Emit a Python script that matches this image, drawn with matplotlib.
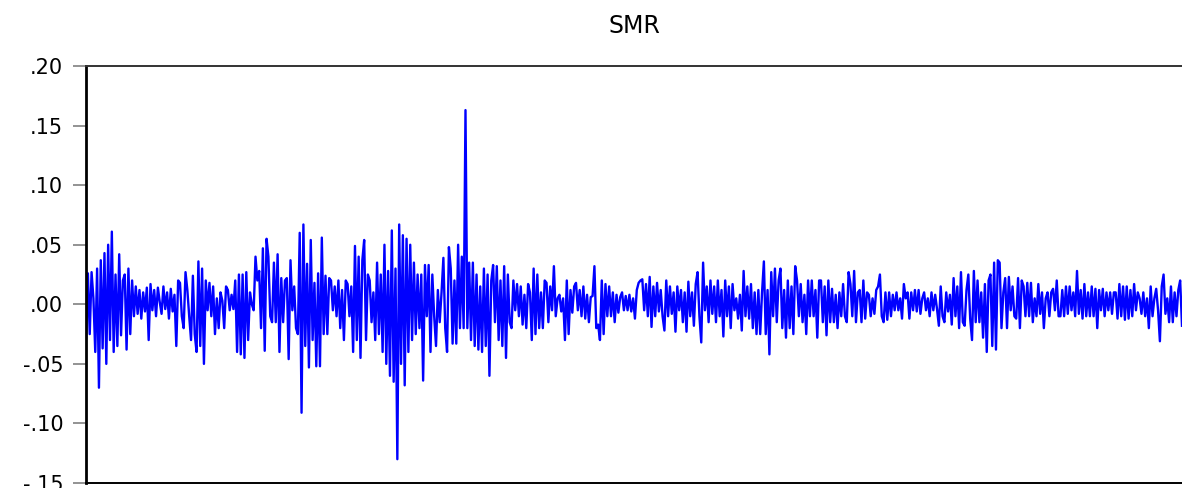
import matplotlib
matplotlib.use('Agg')
import matplotlib.pyplot as plt

# SMR 收益率序列（按图中读数估计）
seg_a = [-0.028, 0.026, -0.025, 0.027, 0.005, -0.040, 0.030, -0.070, 0.037, -0.037,
         0.043, -0.050, 0.050, -0.030, 0.061, -0.040, 0.025, -0.035, 0.042, -0.026,
         0.020, 0.025, -0.038, 0.030, -0.025, 0.020, -0.010, 0.015, -0.008, 0.012,
         -0.012, 0.010, -0.006, 0.014, -0.030, 0.017, -0.005, 0.012, -0.010, 0.014,
         0.002, -0.008, 0.015, -0.004, 0.010, -0.012, 0.013, -0.006, 0.008, -0.035,
         0.020, 0.018, -0.010, -0.020, 0.027, 0.012, -0.010, -0.030, 0.024, -0.025,
         -0.040, 0.036, -0.035, 0.030, -0.050, 0.020, -0.005, 0.018, -0.010, 0.015,
         -0.025, 0.005, -0.020, 0.010, 0.003, -0.020, 0.015, 0.012, -0.005, 0.008,
         -0.004, 0.020, -0.040, 0.025, -0.042, 0.025, -0.045, 0.027, -0.030, 0.010,
         0.000, -0.005, 0.040, 0.020]
seg_b = [0.028, -0.020, 0.047, -0.039, 0.055, 0.040, -0.010, -0.015, 0.035, -0.015,
         0.042, -0.040, 0.022, -0.015, 0.020, 0.022, -0.046, 0.037, -0.005, 0.015,
         -0.020, -0.025, 0.060, -0.091, 0.067, -0.035, 0.034, -0.053, 0.054, -0.030,
         0.018, -0.052, 0.026, -0.052, 0.056, -0.025, 0.024, -0.025, 0.022, 0.020,
         -0.005, 0.015, -0.010, 0.020, -0.020, 0.012, -0.030, 0.020, 0.017, -0.010,
         0.015, -0.040, 0.049, -0.030, 0.040, -0.045, 0.037, 0.054, -0.030, 0.025,
         0.020, -0.015, 0.010, -0.030, 0.035, -0.025, 0.025, -0.040, 0.050, -0.050,
         0.028, -0.060, 0.062, -0.065, 0.030, -0.130, 0.067, -0.050, 0.058, -0.068,
         0.055, -0.040, 0.050, -0.030, 0.035, -0.025, 0.025, -0.020, 0.025, -0.064,
         0.033, -0.010, 0.033, -0.040, 0.025, -0.010, -0.035, 0.012, -0.015, 0.010,
         0.039, -0.020, -0.040, 0.048]
seg_c = [0.030, -0.033, 0.020, -0.033, 0.050, -0.020, 0.040, -0.020, 0.163, -0.020,
         0.035, -0.030, 0.035, -0.035, 0.025, -0.038, 0.015, -0.040, 0.030, -0.035,
         0.025, -0.060, 0.020, 0.033, -0.015, 0.032, -0.030, 0.020, -0.035, 0.032,
         -0.045, 0.025, -0.015, -0.020, 0.020, -0.005, 0.017, -0.010, 0.015, -0.017,
         0.008, -0.020, 0.017, 0.010, -0.030, 0.030, -0.025, 0.025, -0.020, 0.010,
         -0.020, 0.020, 0.018, -0.015, 0.015, -0.005, 0.032, -0.010, 0.005, 0.008,
         -0.006, 0.005, -0.030, 0.020, -0.025, 0.012, -0.007, 0.015, 0.018, -0.005,
         0.012, -0.010, 0.015, -0.012, 0.008, -0.015, 0.006, 0.007, 0.032, -0.020,
         -0.017, -0.030, 0.020, -0.025, 0.017, -0.010, 0.015, -0.010, 0.010, -0.015,
         0.008, -0.007, 0.006, 0.010, -0.005, 0.007, -0.005, 0.008, -0.006, 0.005,
         -0.012, 0.012, 0.018, 0.020]
seg_d = [0.021, -0.005, 0.017, -0.010, 0.023, -0.019, 0.015, -0.010, 0.018, -0.006,
         0.012, -0.010, -0.022, 0.020, -0.010, 0.015, -0.008, 0.010, -0.023, 0.015,
         -0.005, 0.012, -0.015, 0.010, -0.023, 0.019, -0.010, 0.010, -0.018, 0.017,
         0.027, -0.010, -0.032, 0.035, -0.005, 0.015, -0.015, 0.020, -0.008, 0.015,
         -0.015, 0.020, -0.010, 0.012, -0.027, 0.020, -0.010, 0.015, -0.020, 0.017,
         -0.005, 0.005, -0.012, 0.008, -0.022, 0.028, -0.010, 0.015, -0.012, 0.017,
         -0.020, 0.010, -0.025, 0.012, -0.025, 0.010, 0.036, -0.025, 0.012, -0.042,
         0.027, -0.010, 0.030, -0.015, 0.020, 0.030, -0.020, 0.012, -0.028, 0.020,
         -0.020, 0.015, -0.025, 0.032, 0.020, -0.010, 0.017, -0.015, 0.008, -0.025,
         0.020, -0.010, 0.020, -0.010, 0.012, -0.028, 0.020]
seg_e = [0.020, -0.015, 0.015, -0.026, 0.020, -0.015, 0.013, -0.015, 0.008, -0.020,
         0.010, -0.010, 0.017, -0.010, -0.015, 0.027, 0.017, -0.010, 0.028, -0.015,
         0.010, 0.012, -0.015, 0.020, -0.012, 0.010, 0.008, -0.010, 0.005, -0.008,
         0.012, 0.015, 0.025, -0.010, -0.015, 0.010, -0.013, 0.010, -0.010, 0.008,
         -0.005, 0.010, -0.005, 0.005, -0.012, 0.017, 0.005, 0.010, -0.012, 0.010,
         -0.005, 0.012, -0.006, 0.012, -0.008, 0.005, 0.010, -0.005, 0.005, -0.010,
         0.010, -0.005, 0.008, -0.004, -0.018, 0.015, -0.010, -0.015, 0.010, -0.006,
         0.008, -0.017, 0.022, -0.010, 0.015, -0.020, 0.027, -0.015, -0.018, 0.012,
         0.025, -0.012, -0.030, 0.028, -0.015, 0.020, -0.015, 0.010, -0.028, 0.017,
         -0.040, 0.020, 0.025, -0.035, 0.035]
seg_f = [-0.038, 0.037, 0.035, -0.020, 0.010, 0.022, -0.020, 0.023, -0.005, 0.015,
         -0.010, -0.012, 0.022, -0.020, 0.020, 0.015, -0.010, 0.018, -0.010, 0.018,
         -0.015, 0.005, -0.010, 0.017, -0.008, 0.010, -0.020, 0.005, 0.010, -0.010,
         0.010, 0.013, -0.005, 0.020, -0.010, -0.010, 0.012, -0.010, 0.015, -0.008,
         0.015, -0.005, 0.010, -0.010, 0.028, -0.008, 0.012, -0.012, 0.017, -0.010,
         0.010, -0.010, 0.015, -0.010, 0.013, -0.020, 0.012, -0.005, 0.013, -0.010,
         0.010, -0.005, 0.010, -0.008, 0.010, 0.010, -0.012, 0.017, -0.010, 0.015,
         -0.013, 0.015, -0.012, 0.012, -0.010, 0.017, -0.005, 0.010, 0.005, -0.008,
         0.010, -0.010, 0.005, -0.020, 0.015, -0.010, 0.005, 0.013, -0.005, -0.031,
         0.015, 0.025, -0.008, 0.005, -0.015, 0.015, -0.015, 0.010, -0.010, 0.012,
         0.020, -0.018]

smr = seg_a + seg_b + seg_c + seg_d + seg_e + seg_f

y_ticks = [-0.15, -0.10, -0.05, 0.00, 0.05, 0.10, 0.15, 0.20]
y_labels = ['-.15', '-.10', '-.05', '.00', '.05', '.10', '.15', '.20']

plt.rcParams['font.family'] = ['DejaVu Sans']

fig = plt.figure(figsize=(11.82, 4.88), dpi=100)
ax = fig.add_axes([0.0728, 0.0102, 0.9272, 0.8545])

ax.plot(range(len(smr)), smr, color='#0000ff', linewidth=1.7)

ax.set_xlim(0, len(smr) - 1)
ax.set_ylim(-0.15, 0.20)
ax.set_yticks(y_ticks)
ax.set_yticklabels(y_labels, fontsize=15)
ax.set_xticks([])
ax.tick_params(axis='y', length=9.5, width=1.2, color='#808080', pad=7)

for side in ['left', 'top', 'bottom']:
    ax.spines[side].set_color('black')
ax.spines['left'].set_linewidth(2)
ax.spines['top'].set_linewidth(1.4)
ax.spines['bottom'].set_linewidth(1.4)
ax.spines['top'].set_color('#333333')
ax.spines['right'].set_visible(False)

ax.set_title('SMR', fontsize=17, pad=24)

fig.savefig('out.png', dpi=100)
